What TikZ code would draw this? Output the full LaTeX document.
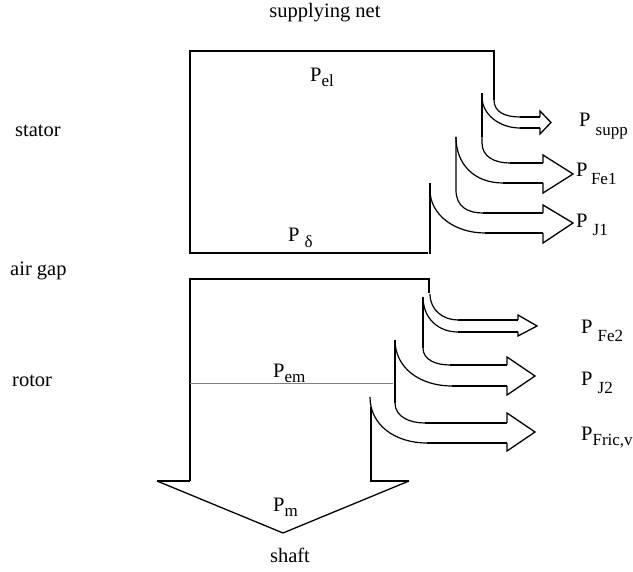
\documentclass[tikz,border=0pt]{standalone}
\usepackage{fontspec}
\setmainfont{Liberation Serif}
\newcommand{\Pl}[3]{P#1\raisebox{-#3pt}{\fontsize{17}{17}\selectfont #2}}
\begin{document}
\begin{tikzpicture}[x=1pt,y=-1pt,
  every node/.style={font=\fontsize{20.5}{24}\selectfont, inner sep=0pt},
  lab/.style={anchor=base west},
  mainline/.style={line width=2pt, line join=miter},
  heavy/.style={line width=2.6pt},
  curveline/.style={line width=1.2pt},
  shaftline/.style={line width=2.2pt},
  headline/.style={line width=1.3pt, line join=miter},
  emline/.style={line width=1pt, gray}]
\useasboundingbox (0,0) rectangle (633,572);

% texts
\node[anchor=base] (net) at (325,18) {supplying net};
\node[lab] (stator) at (15,137) {stator};
\node[lab] (airgap) at (10,276) {air gap};
\node[lab] (rotor) at (12,387) {rotor};
\node[anchor=base] (shaft) at (290,562) {shaft};
\node[lab] (pel) at (310,82) {\Pl{}{el}{5}};
\node[lab] (pdelta) at (288,242) {\Pl{ }{δ}{6}};
\node[lab] (pem) at (273,378) {\Pl{}{em}{5}};
\node[lab] (pm) at (273,512) {\Pl{}{m}{5}};
\node[lab] (psupp) at (579,127) {\Pl{ }{supp}{9}};
\node[lab] (pfe1) at (576,177) {\Pl{\,}{Fe1}{8}};
\node[lab] (pj1) at (576,228) {\Pl{ }{J1}{8}};
\node[lab] (pfe2) at (581,334) {\Pl{ }{Fe2}{8}};
\node[lab] (pj2) at (581,386) {\Pl{ }{J2}{8}};
\node[lab] (pfric) at (581,441) {\Pl{}{Fric,v}{5}};

% stator
\draw[mainline] (494,100) -- (494,51) -- (190,51) -- (190,253);
\draw[heavy] (189,253) -- (428,253);
\draw[heavy] (430,183) -- (430,254);

% P supp
\draw[curveline] (494,100) .. controls (494,112) and (505,117) .. (520,117);
\draw[curveline] (482,97) .. controls (482,114) and (499,128) .. (520,128);
\draw[heavy] (482,93) -- (482,137);
\draw[shaftline] (520,117) -- (540,117);
\draw[shaftline] (520,128) -- (540,128);
\draw[headline] (540,117) -- (540,111) -- (551,122.5) -- (540,134) -- (540,128);

% P Fe1
\draw[curveline] (482,137) -- (482,143) .. controls (482,157) and (495,163) .. (510,163);
\draw[shaftline] (510,163) -- (543,163);
\draw[headline] (543,163) -- (543,155) -- (573,174) -- (543,193) -- (543,183);
\draw[shaftline] (503,183) -- (543,183);
\draw[curveline] (456,137) .. controls (456,165) and (475,183) .. (503,183);

% P J1
\draw[curveline] (456,137) -- (456,190) .. controls (456,207) and (468,213) .. (483,213);
\draw[shaftline] (483,213) -- (543,213);
\draw[headline] (543,213) -- (543,205) -- (573,223) -- (543,243) -- (543,233);
\draw[shaftline] (485,233) -- (543,233);
\draw[curveline] (430,190) .. controls (430,215) and (455,233) .. (485,233);

% rotor
\draw[mainline] (429,293) -- (429,279) -- (190,279) -- (190,481);
\draw[heavy] (190,481) -- (157,481);
\draw[headline] (157,481) -- (283,533) -- (409,481);
\draw[heavy] (409,481) -- (371,481) -- (371,407);
\draw[emline] (190,384) -- (393,384);

% P Fe2
\draw[curveline] (430,294) .. controls (430,310) and (443,320) .. (458,320);
\draw[line width=1.6pt] (458,320) -- (518,320);
\draw[headline] (518,320) -- (518,315) -- (537,326) -- (518,336) -- (518,332);
\draw[line width=1.6pt] (458,332) -- (518,332);
\draw[curveline] (423,297) .. controls (423,318) and (438,332) .. (458,332);
\draw[heavy] (423,297) -- (423,348);

% P J2
\draw[curveline] (423,348) .. controls (423,360) and (436,365) .. (450,365);
\draw[shaftline] (450,365) -- (507,365);
\draw[headline] (507,365) -- (507,357) -- (535,376) -- (507,395) -- (507,386);
\draw[shaftline] (452,386) -- (507,386);
\draw[curveline] (395,340) .. controls (395,368) and (420,386) .. (452,386);
\draw[mainline] (395,340) -- (395,403);

% P Fric,v
\draw[curveline] (395,403) .. controls (395,417) and (410,423) .. (425,423);
\draw[shaftline] (425,423) -- (507,423);
\draw[headline] (507,423) -- (507,413) -- (535,432) -- (507,451) -- (507,443);
\draw[shaftline] (427,443) -- (507,443);
\draw[curveline] (370,397) .. controls (370,425) and (395,443) .. (427,443);
\end{tikzpicture}
\end{document}
